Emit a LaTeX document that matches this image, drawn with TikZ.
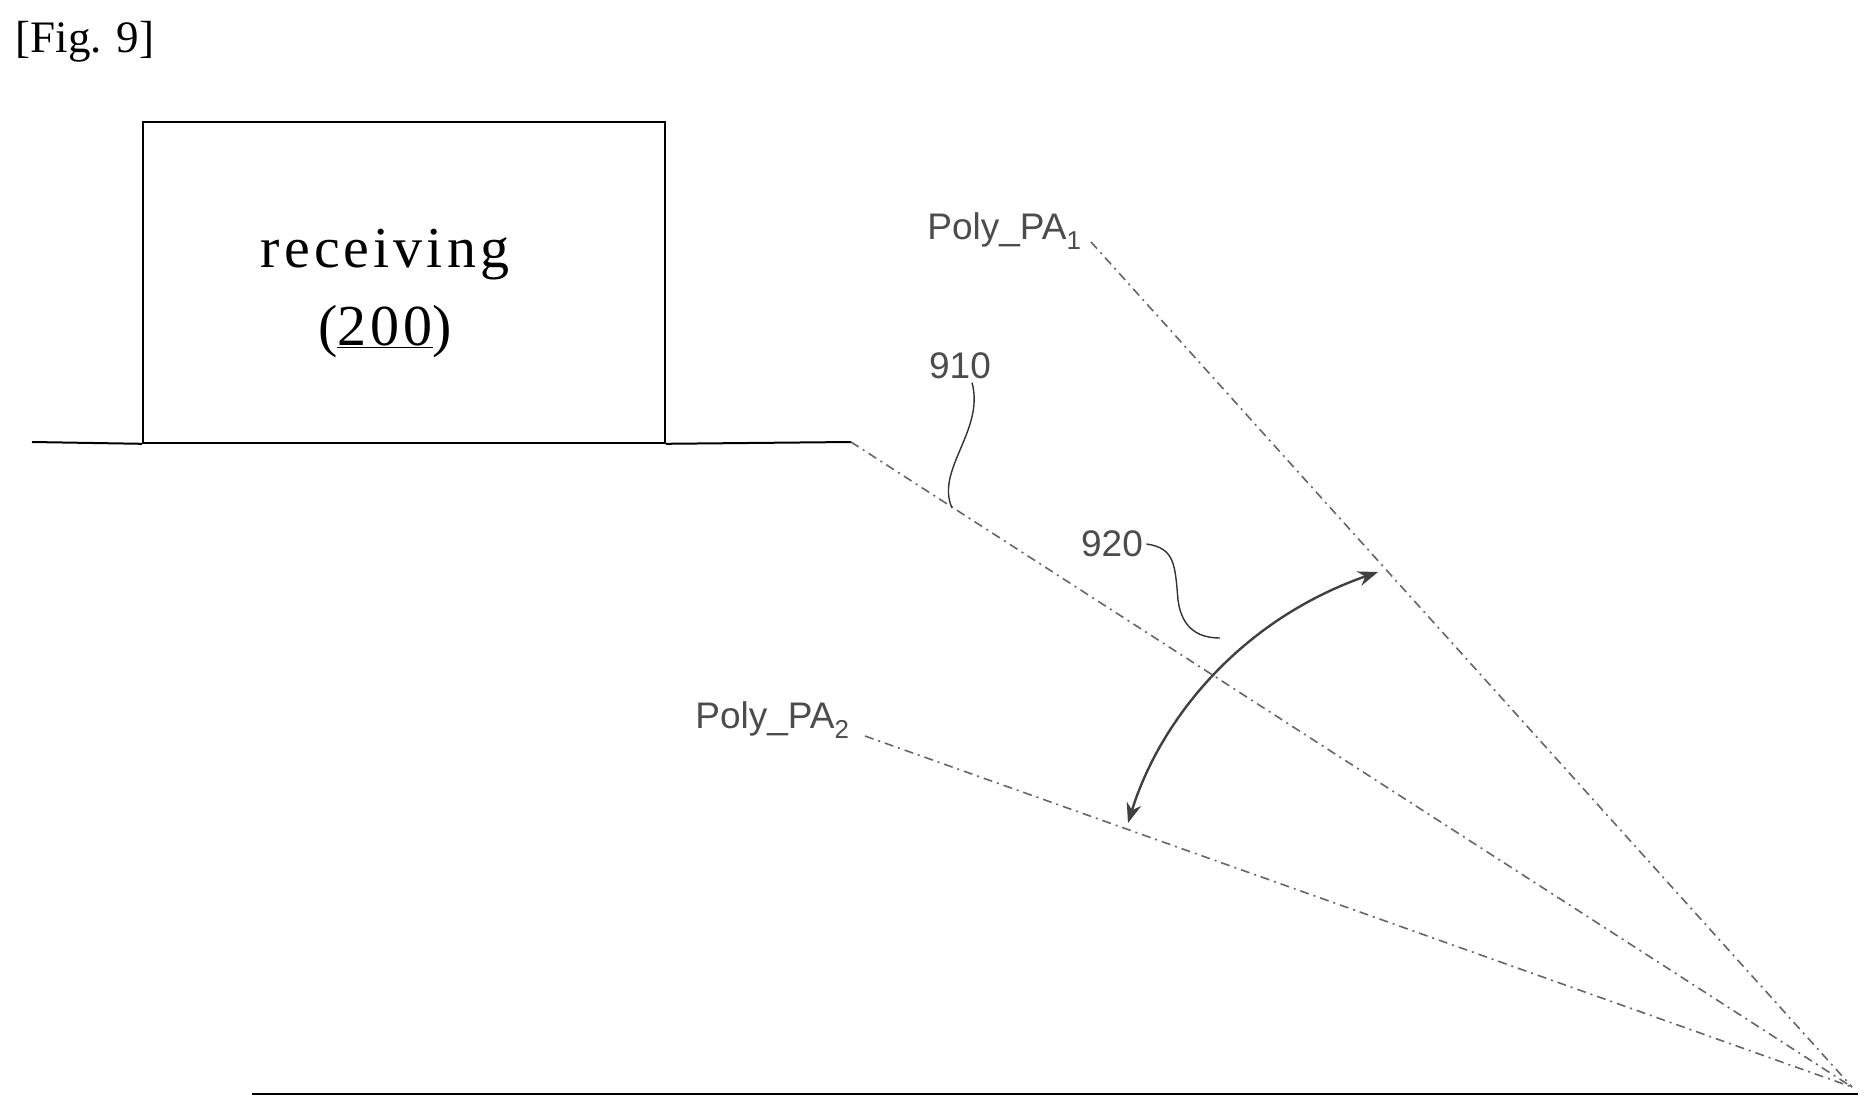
\documentclass[tikz,border=0pt]{standalone}
\usepackage{fontspec}
\setmainfont{Liberation Serif}
\setsansfont{Liberation Sans}
\usetikzlibrary{arrows.meta}
\begin{document}
\begin{tikzpicture}[x=1pt,y=-1pt,
  ray/.style={draw=gray!80!black,line width=1.6pt,dash pattern=on 9pt off 5pt on 2pt off 5pt},
  lbl/.style={font=\sffamily\fontsize{37}{40}\selectfont,text=gray!60!black},
  lead/.style={draw=black!80,line width=1.4pt}]
\useasboundingbox (0,0) rectangle (1875,1116);
\node[anchor=west,font=\fontsize{45}{50}\selectfont] (fig) at (12,42) {[Fig. 9]};
\node[draw,line width=1.8pt,minimum width=522pt,minimum height=321pt,anchor=north west] (box) at (142,121) {};
\node[font=\fontsize{58}{78}\selectfont\addfontfeature{LetterSpace=7},align=center] (rt) at (385,293) {receiving\\(\underline{200})};
\coordinate (g0) at (32,442);
\coordinate (g1) at (851,442);
\coordinate (apex) at (1852,1087);
\coordinate (b0) at (252,1094);
\coordinate (b1) at (1858,1094);
\draw[line width=2pt] (g0) -- (box.south west) (box.south east) -- (g1);
\draw[line width=2.6pt] (b0) -- (b1);
\draw[ray] (g1) -- (apex);
\coordinate (p1) at (1091,242);
\coordinate (p2) at (865,736);
\draw[ray] (p1) -- (apex);
\draw[ray] (p2) -- (apex);
\node[lbl,anchor=east] (pa1) at (1085,231) {Poly\_PA\textsubscript{1}};
\node[lbl,anchor=east] (pa2) at (853,720) {Poly\_PA\textsubscript{2}};
\node[lbl] (n910) at (960,366) {910};
\node[lbl] (n920) at (1112,544) {920};
\coordinate (ta) at (1128,823);
\coordinate (tb) at (1378,572);
\draw[line width=2.4pt,draw=black!75,{Stealth[length=20pt,width=15pt]}-{Stealth[length=20pt,width=15pt]}] (ta) .. controls (1160,720) and (1240,620) .. (tb);
\draw[lead] (n910.south) ++(12,0) .. controls (985,430) and (935,470) .. (952,508);
\draw[lead] (n920.east) .. controls (1175,548) and (1175,565) .. (1178,600) .. controls (1182,630) and (1200,638) .. (1220,638);
\end{tikzpicture}
\end{document}
